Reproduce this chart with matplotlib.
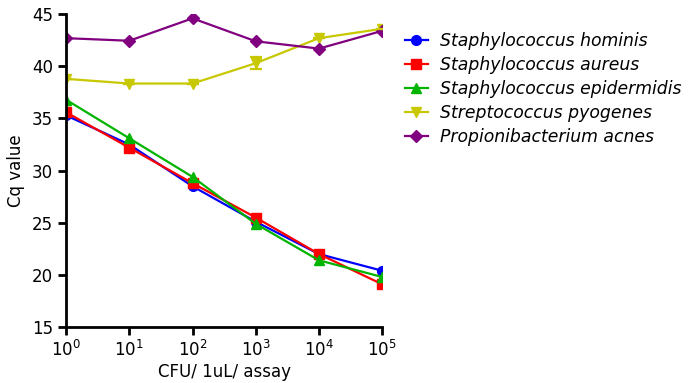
import matplotlib.pyplot as plt

# CFU per 1uL per assay
cfu = [1, 10, 100, 1000, 10000, 100000]

hominis = [35.3, 32.5, 28.5, 25.1, 22.0, 20.4]
aureus = [35.6, 32.2, 28.8, 25.5, 22.0, 19.1]
epidermidis = [36.8, 33.1, 29.4, 24.9, 21.4, 19.8]
pyogenes = [38.8, 38.35, 38.35, 40.3, 42.7, 43.6]
pyogenes_err = [0.0, 0.0, 0.0, 0.55, 0.0, 0.0]
acnes = [42.7, 42.45, 44.6, 42.4, 41.7, 43.4]

series = [
    ("Staphylococcus hominis", hominis, "#0000ff", "o"),
    ("Staphylococcus aureus", aureus, "#ff0000", "s"),
    ("Staphylococcus epidermidis", epidermidis, "#00b400", "^"),
    ("Streptococcus pyogenes", pyogenes, "#c8c800", "v"),
    ("Propionibacterium acnes", acnes, "#800080", "D"),
]

fig = plt.figure(figsize=(6.95, 3.83), dpi=100)
ax = fig.add_axes([0.095, 0.146, 0.455, 0.817])

handles = []
for label, vals, color, marker in series:
    ms = 6 if marker == "D" else 7
    line, = ax.plot(cfu, vals, color=color, marker=marker, markersize=ms,
                    linewidth=1.6, label=label)
    handles.append(line)

# error bar on the pyogenes series (only the 10^3 point is visible)
ax.errorbar(cfu, pyogenes, yerr=pyogenes_err, fmt="none", ecolor="#c8c800",
            capsize=4, capthick=1.6, elinewidth=1.6)

ax.set_xscale("log")
ax.set_xlim(1, 100000)
ax.set_ylim(15, 45)
ax.set_yticks([15, 20, 25, 30, 35, 40, 45])
ax.set_xticks(cfu)
ax.minorticks_off()

for side in ["top", "right"]:
    ax.spines[side].set_visible(False)
for side in ["left", "bottom"]:
    ax.spines[side].set_linewidth(2)
ax.tick_params(axis="both", width=2, length=6, labelsize=12, direction="out")

ax.set_xlabel("CFU/ 1uL/ assay", fontsize=12, labelpad=2)
ax.set_ylabel("Cq value", fontsize=12, labelpad=5)

ax.legend(handles=handles, loc="upper left", bbox_to_anchor=(0.573, 0.935),
          bbox_transform=fig.transFigure, frameon=False,
          prop={"style": "italic", "size": 12.4}, handlelength=1.3,
          handletextpad=0.75, labelspacing=0.35, borderaxespad=0)

fig.savefig("out.png", dpi=100)
